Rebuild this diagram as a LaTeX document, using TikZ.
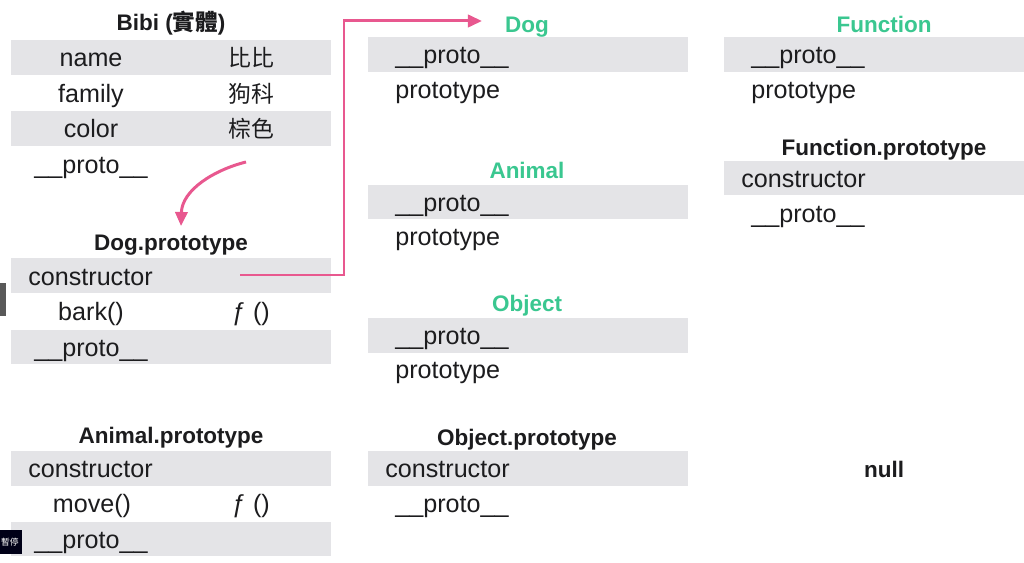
\documentclass[tikz,border=0pt]{standalone}
\usepackage{fontspec}
\setmainfont{Liberation Sans}
\newfontfamily\cjk{Noto Sans CJK TC}
\usepackage{tikz}
\usetikzlibrary{arrows.meta,positioning,calc}
\definecolor{rowgray}{RGB}{228,228,231}
\definecolor{titlegreen}{RGB}{58,199,144}
\definecolor{linkpink}{RGB}{232,88,143}
\definecolor{inkblack}{RGB}{28,28,30}
\tikzset{
	slot/.style = {
		fill=rowgray, 
		rectangle, 
		minimum width=6.4cm, 
		minimum height=0.69cm, 
		inner sep=0pt
	},
	field/.style = {
		font=\fontsize{14.3}{17}\selectfont, 
		text=inkblack, 
		inner sep=0pt, 
		text height=11.5pt, 
		text depth=3pt
	},
	fieldleft/.style = {
		field, 
		anchor=west
	},
	cjkvalue/.style = {
		field, 
		font=\cjk\fontsize{13}{16}\selectfont
	},
	title/.style = {
		font=\fontsize{12.8}{15}\selectfont\bfseries, 
		text=inkblack, 
		inner sep=0pt, 
		text height=9.5pt, 
		text depth=0pt
	},
	ctorname/.style = {
		title, 
		text=titlegreen
	},
	link/.style = {
		-{Triangle[length=8pt,width=7pt]}, 
		draw=linkpink, 
		line width=1.7pt
	}
}
\begin{document}
\begin{tikzpicture}[x=0.02cm,y=-0.02cm]
		
		% --- Lienzo ---
		\fill[white] (0,0) rectangle (1024,563);
		\useasboundingbox (0,0) rectangle (1024,563);
		
		% --- Columna izquierda: instancia Bibi ---
		\node [title] (bibiTitle) at (171,22) {Bibi ({\cjk 實體})};
		\node [slot] (bibiRowA) at (171,57.5) {};
		\node [slot] (bibiRowC) at (171,128.5) {};
		\node [field] (bibiName) at (91,59.5) {name};
		\node [cjkvalue] (bibiNameVal) at (251,59.5) {比比};
		\node [field] (bibiFamily) at (91,95) {family};
		\node [cjkvalue] (bibiFamilyVal) at (251,95) {狗科};
		\node [field] (bibiColor) at (91,130.5) {color};
		\node [cjkvalue] (bibiColorVal) at (251,130.5) {棕色};
		\node [field] (bibiProto) at (91,166) {\_\_proto\_\_};
		
		% --- Dog.prototype ---
		\node [title] (dogProtoTitle) at (171,242) {Dog.prototype};
		\node [slot] (dogProtoRowA) at (171,275.5) {};
		\node [slot] (dogProtoRowC) at (171,347) {};
		\node [fieldleft] (dogProtoCtor) at (28,278) {constructor};
		\node [field] (dogProtoBark) at (91,313) {bark()};
		\node [field] (dogProtoBarkVal) at (251,313) {ƒ ()};
		\node [field] (dogProtoProto) at (91,349) {\_\_proto\_\_};
		
		% --- Animal.prototype ---
		\node [title] (animalProtoTitle) at (171,435) {Animal.prototype};
		\node [slot] (animalProtoRowA) at (171,468.5) {};
		\node [slot] (animalProtoRowC) at (171,539) {};
		\node [fieldleft] (animalProtoCtor) at (28,470) {constructor};
		\node [field] (animalProtoMove) at (92,505) {move()};
		\node [field] (animalProtoMoveVal) at (251,505) {ƒ ()};
		\node [field] (animalProtoProto) at (91,541) {\_\_proto\_\_};
		
		% --- Columna central: constructores ---
		\node [ctorname] (dogTitle) at (527,24) {Dog};
		\node [slot] (dogRow) at (528,54.5) {};
		\node [fieldleft] (dogProto) at (395,56) {\_\_proto\_\_};
		\node [fieldleft] (dogPrototype) at (395,91) {prototype};
		
		\node [ctorname] (animalTitle) at (527,170) {Animal};
		\node [slot] (animalRow) at (528,202) {};
		\node [fieldleft] (animalProto) at (395,204) {\_\_proto\_\_};
		\node [fieldleft] (animalPrototype) at (395,238) {prototype};
		
		\node [ctorname] (objectTitle) at (527,303) {Object};
		\node [slot] (objectRow) at (528,335.5) {};
		\node [fieldleft] (objectProto) at (395,337) {\_\_proto\_\_};
		\node [fieldleft] (objectPrototype) at (395,371) {prototype};
		
		% --- Object.prototype ---
		\node [title] (objectProtoTitle) at (527,437) {Object.prototype};
		\node [slot] (objectProtoRow) at (528,468.5) {};
		\node [fieldleft] (objectProtoCtor) at (385,470) {constructor};
		\node [fieldleft] (objectProtoProto) at (395,505) {\_\_proto\_\_};
		
		% --- Columna derecha: Function ---
		\node [ctorname] (functionTitle) at (884,24) {Function};
		\node [slot] (functionRow) at (884,54.5) {};
		\node [fieldleft] (functionProto) at (751,56) {\_\_proto\_\_};
		\node [fieldleft] (functionPrototype) at (751,91) {prototype};
		
		\node [title] (functionProtoTitle) at (884,147) {Function.prototype};
		\node [slot] (functionProtoRow) at (884,178) {};
		\node [fieldleft] (functionProtoCtor) at (741,180) {constructor};
		\node [fieldleft] (functionProtoProto) at (751,215) {\_\_proto\_\_};
		
		% Fin de la cadena
		\node [title] (nullEnd) at (884,469) {null};
		
		% --- CONEXIONES ---
		\coordinate (bibiProtoOut) at (246,162);
		\coordinate (dogProtoIn) at (181,226);
		\coordinate (dogCtorOut) at (240,275);
		\coordinate (dogIn) at (482,21);
		
		% Bibi.__proto__ -> Dog.prototype
		\draw [link] (bibiProtoOut) .. controls (214,170) and (182,190) .. (dogProtoIn);
		
		% Dog.prototype.constructor -> Dog
		\draw [link] (dogCtorOut) -- ++(104,0) |- (dogIn);
		
		% --- Restos del reproductor ---
		\fill[black!65] (0,283) rectangle (6,316);
		\fill[black!85!blue!60!black] (0,530) rectangle (22,554);
		\node [text=white, font=\cjk\fontsize{5}{6}\selectfont, inner sep=0pt] (pauseTag) at (10,542) {暫停};
		
	\end{tikzpicture}
\end{document}
